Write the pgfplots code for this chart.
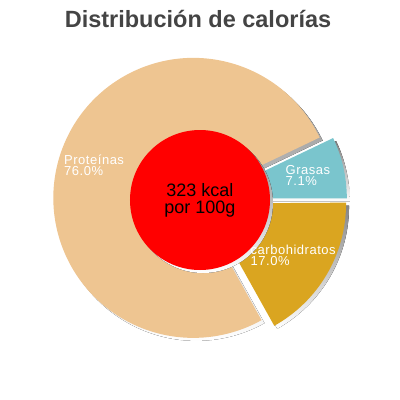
\documentclass[border=0pt]{standalone}
\usepackage{pgfplots}
\pgfplotsset{compat=1.18}
\usepackage{pgfplotstable}
\usepackage{fontspec}
\setmainfont{Liberation Sans}
\definecolor{prot}{HTML}{EEC591}
\definecolor{fat}{HTML}{7AC5CD}
\definecolor{carbs}{HTML}{DAA520}
\definecolor{shade}{HTML}{666666}
\definecolor{titlegray}{HTML}{444444}

% energy share of each part, in percent
\pgfplotstableread{
label value
Grasas 7.1
Proteinas 76.0
carbohidratos 17.0
}\slicedata

\begin{document}
\begin{tikzpicture}
\pgfplotstablegetelem{0}{value}\of\slicedata \let\vA\pgfplotsretval
\pgfplotstablegetelem{1}{value}\of\slicedata \let\vB\pgfplotsretval
\pgfplotstablegetelem{2}{value}\of\slicedata \let\vC\pgfplotsretval
\pgfmathsetmacro\aA{0}
\pgfmathsetmacro\aB{\aA+\vA*3.6}
\pgfmathsetmacro\aC{\aB+\vB*3.6}
\pgfmathsetmacro\aD{\aC+\vC*3.6}
% one exploded wedge: #1 start angle, #2 end angle, #3 colour, #4 offset
\newcommand\pieslice[4]{%
  \fill[#3] (axis cs:200,200) ++({(#1+#2)/2}:7bp) ++(#4)
    -- ++(#1:140bp) arc[start angle=#1,end angle=#2,radius=140bp] -- cycle;}
\begin{axis}[
    width=400bp, height=400bp, scale only axis,
    xmin=0, xmax=400, ymin=0, ymax=400, y dir=reverse,
    hide axis, clip=false,
    ]
\path (axis cs:0,0) rectangle (axis cs:400,400);
% shadows
\pieslice{\aA}{\aB}{shade}{3bp,-3bp}
\pieslice{\aB}{\aC}{shade}{3bp,-3bp}
\pieslice{\aC}{\aD}{shade}{3bp,-3bp}
% slices
\pieslice{\aA}{\aB}{fat}{0,0}
\pieslice{\aB}{\aC}{prot}{0,0}
\pieslice{\aC}{\aD}{carbs}{0,0}
% centre disc
\fill[shade] (axis cs:203,203) circle[radius=70bp];
\fill[red] (axis cs:200,200) circle[radius=70bp];

\node[anchor=base, text=titlegray, font=\fontsize{23.5bp}{26bp}\selectfont\bfseries,
  inner sep=0pt] at (axis cs:198,27.3) {Distribución de calorías};

\node[anchor=base, inner sep=0pt, font=\fontsize{18bp}{20bp}\selectfont]
  at (axis cs:200,196) {323 kcal};
\node[anchor=base, inner sep=0pt, font=\fontsize{18bp}{20bp}\selectfont]
  at (axis cs:200,213) {por 100g};

\tikzset{lab/.style={anchor=base west, inner sep=0pt, text=white,
  font=\fontsize{13bp}{15bp}\selectfont\addfontfeatures{LetterSpace=4}}}
\node[lab] at (axis cs:64,164.3) {Proteínas};
\node[lab] at (axis cs:64,175.3) {76.0\%};
\node[lab] at (axis cs:285.5,174.3) {Grasas};
\node[lab] at (axis cs:285.5,185.3) {7.1\%};
\node[lab] at (axis cs:250.5,254.5) {carbohidratos};
\node[lab] at (axis cs:250.5,265.5) {17.0\%};
\end{axis}
\end{tikzpicture}
\end{document}
